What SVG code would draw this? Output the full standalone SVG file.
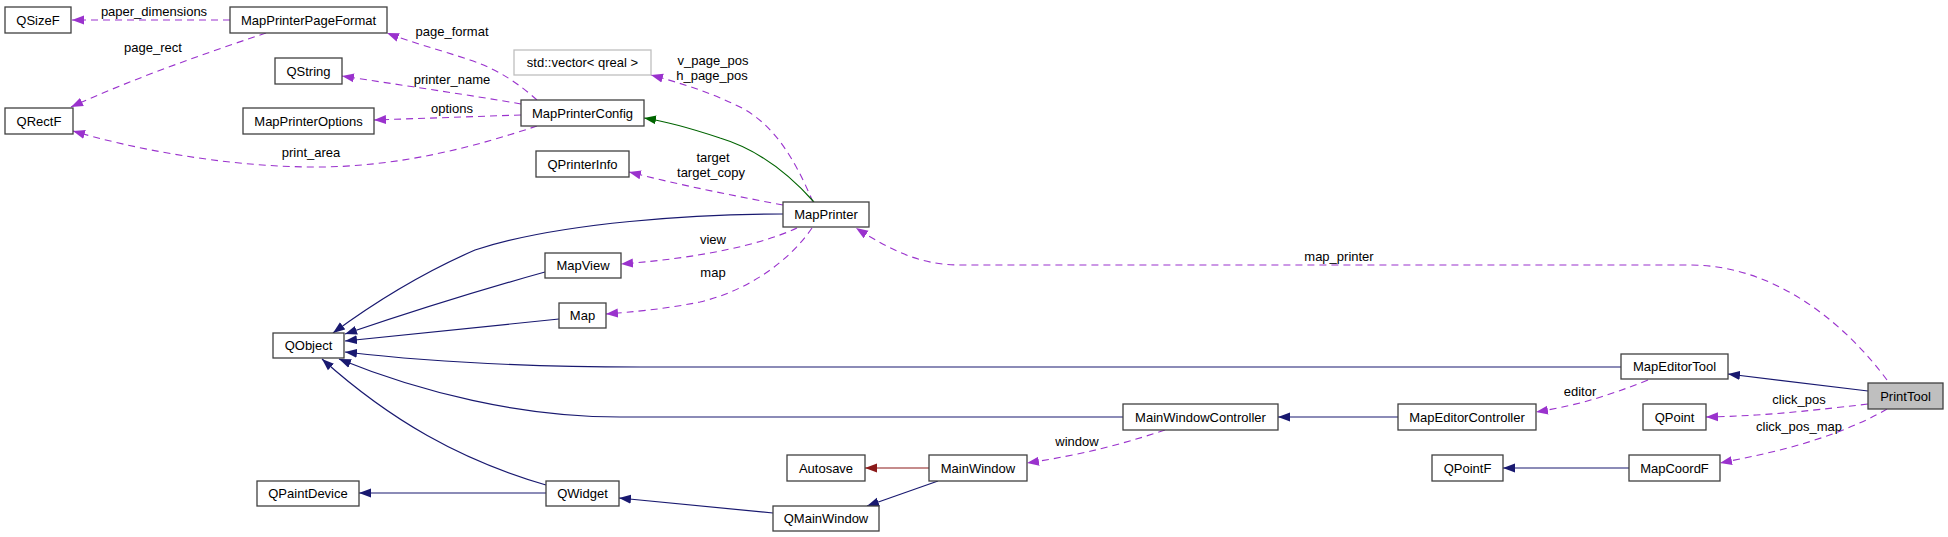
<svg xmlns="http://www.w3.org/2000/svg" width="1948" height="537" viewBox="0 0 1948 537">
<style>
.n rect{fill:#fff;stroke:#404040;stroke-width:1.3}
.n text,.lbl{font-family:"Liberation Sans",Arial,sans-serif;font-size:13px;fill:#000}
.n text{text-anchor:middle}
.lbl{text-anchor:middle}
.use{fill:none;stroke:#9a32cd;stroke-width:1.1;stroke-dasharray:7,5;marker-end:url(#ap)}
.pub{fill:none;stroke:#191970;stroke-width:1.2;marker-end:url(#ab)}
.pro{fill:none;stroke:#006400;stroke-width:1.2;marker-end:url(#ag)}
.pri{fill:none;stroke:#8b1a1a;stroke-width:1.2;marker-end:url(#ar)}
</style>
<defs>
<marker id="ap" viewBox="0 0 12 10" refX="12" refY="5" markerWidth="12" markerHeight="10" markerUnits="userSpaceOnUse" orient="auto"><path d="M0,0.5 L12,5 L0,9.5 z" fill="#9a32cd"/></marker>
<marker id="ab" viewBox="0 0 12 10" refX="12" refY="5" markerWidth="12" markerHeight="10" markerUnits="userSpaceOnUse" orient="auto"><path d="M0,0.5 L12,5 L0,9.5 z" fill="#191970"/></marker>
<marker id="ag" viewBox="0 0 12 10" refX="12" refY="5" markerWidth="12" markerHeight="10" markerUnits="userSpaceOnUse" orient="auto"><path d="M0,0.5 L12,5 L0,9.5 z" fill="#006400"/></marker>
<marker id="ar" viewBox="0 0 12 10" refX="12" refY="5" markerWidth="12" markerHeight="10" markerUnits="userSpaceOnUse" orient="auto"><path d="M0,0.5 L12,5 L0,9.5 z" fill="#8b1a1a"/></marker>
</defs>
<rect width="1948" height="537" fill="#fff"/>
<g id="connectors">
<path class="use" d="M230,20 L72,20"/>
<path class="use" d="M266,33 C200,55 130,80 71,107"/>
<path class="use" d="M537,100 C520,85 500,70 470,60 C440,50 410,42 387,33"/>
<path class="use" d="M521,104 C470,95 400,85 342,76"/>
<path class="use" d="M521,115 L374,120"/>
<path class="use" d="M537,126 C480,145 400,168 310,167 C220,166 130,148 73,131"/>
<path class="use" d="M813,202 C795,160 775,125 740,107 C710,92 680,83 651,75"/>
<path class="use" d="M783,205 C730,195 680,185 629,172"/>
<path class="use" d="M797,228 C760,245 700,258 621,264"/>
<path class="use" d="M812,228 C790,260 750,290 700,302 C660,310 630,312 606,314"/>
<path class="use" d="M1887,380 C1850,330 1780,265 1690,265 L960,265 C920,265 890,250 856,228"/>
<path class="use" d="M1648,380 C1610,395 1580,405 1536,412"/>
<path class="use" d="M1868,404 C1800,412 1760,416 1706,417"/>
<path class="use" d="M1887,409 C1860,425 1820,440 1780,450 C1760,455 1740,459 1720,463"/>
<path class="use" d="M1165,430 C1120,445 1080,455 1027,463"/>
<path class="pub" d="M783,214 C700,214 560,222 475,250 C420,274 375,302 333,333"/>
<path class="pub" d="M545,272 C480,290 410,312 345,334"/>
<path class="pub" d="M559,319 C490,326 420,333 345,341"/>
<path class="pub" d="M1621,367 L640,367 C520,367 430,362 345,352"/>
<path class="pub" d="M1123,417 L620,417 C520,417 420,392 339,359"/>
<path class="pub" d="M546,485 C460,460 390,420 322,359"/>
<path class="pub" d="M546,493 L359,493"/>
<path class="pub" d="M773,513 L619,498"/>
<path class="pub" d="M938,481 L867,506"/>
<path class="pub" d="M1398,417 L1278,417"/>
<path class="pub" d="M1868,391 L1728,374"/>
<path class="pub" d="M1629,468 L1503,468"/>
<path class="pro" d="M814,202 C790,175 760,150 720,138 C690,128 670,122 644,118"/>
<path class="pri" d="M929,468 L865,468"/>
</g>
<g id="labels">
<text class="lbl" x="154" y="16">paper_dimensions</text>
<text class="lbl" x="153" y="52">page_rect</text>
<text class="lbl" x="452" y="36">page_format</text>
<text class="lbl" x="452" y="84">printer_name</text>
<text class="lbl" x="452" y="113">options</text>
<text class="lbl" x="311" y="157">print_area</text>
<text class="lbl" x="713" y="65">v_page_pos</text>
<text class="lbl" x="712" y="80">h_page_pos</text>
<text class="lbl" x="713" y="162">target</text>
<text class="lbl" x="711" y="177">target_copy</text>
<text class="lbl" x="713" y="244">view</text>
<text class="lbl" x="713" y="277">map</text>
<text class="lbl" x="1339" y="261">map_printer</text>
<text class="lbl" x="1077" y="446">window</text>
<text class="lbl" x="1580" y="396">editor</text>
<text class="lbl" x="1799" y="404">click_pos</text>
<text class="lbl" x="1799" y="431">click_pos_map</text>
</g>
<g id="QSizeF" class="n"><rect x="5" y="7" width="66" height="26"/><text x="38" y="24.5">QSizeF</text></g>
<g id="MapPrinterPageFormat" class="n"><rect x="230" y="7" width="157" height="26"/><text x="308.5" y="24.5">MapPrinterPageFormat</text></g>
<g id="QString" class="n"><rect x="275" y="58" width="67" height="26"/><text x="308.5" y="75.5">QString</text></g>
<g id="MapPrinterOptions" class="n"><rect x="243" y="108" width="131" height="26"/><text x="308.5" y="125.5">MapPrinterOptions</text></g>
<g id="QRectF" class="n"><rect x="5" y="108" width="68" height="26"/><text x="39" y="125.5">QRectF</text></g>
<g id="std_vector_qreal" class="n"><rect x="514" y="50" width="137" height="25" style="stroke:#bfbfbf"/><text x="582.5" y="67">std::vector&lt; qreal &gt;</text></g>
<g id="MapPrinterConfig" class="n"><rect x="521" y="100" width="123" height="26"/><text x="582.5" y="117.5">MapPrinterConfig</text></g>
<g id="QPrinterInfo" class="n"><rect x="536" y="151" width="93" height="26"/><text x="582.5" y="168.5">QPrinterInfo</text></g>
<g id="MapPrinter" class="n"><rect x="783" y="202" width="86" height="25"/><text x="826" y="219">MapPrinter</text></g>
<g id="MapView" class="n"><rect x="545" y="253" width="76" height="25"/><text x="583" y="270">MapView</text></g>
<g id="Map" class="n"><rect x="559" y="303" width="47" height="25"/><text x="582.5" y="320">Map</text></g>
<g id="QObject" class="n"><rect x="273" y="333" width="71" height="25"/><text x="308.5" y="350">QObject</text></g>
<g id="QPaintDevice" class="n"><rect x="257" y="481" width="102" height="25"/><text x="308" y="498">QPaintDevice</text></g>
<g id="QWidget" class="n"><rect x="546" y="481" width="73" height="25"/><text x="582.5" y="498">QWidget</text></g>
<g id="Autosave" class="n"><rect x="787" y="455" width="78" height="26"/><text x="826" y="472.5">Autosave</text></g>
<g id="MainWindow" class="n"><rect x="929" y="455" width="98" height="26"/><text x="978" y="472.5">MainWindow</text></g>
<g id="QMainWindow" class="n"><rect x="773" y="506" width="106" height="25"/><text x="826" y="523">QMainWindow</text></g>
<g id="MainWindowController" class="n"><rect x="1123" y="404" width="155" height="26"/><text x="1200.5" y="421.5">MainWindowController</text></g>
<g id="MapEditorController" class="n"><rect x="1398" y="404" width="138" height="26"/><text x="1467" y="421.5">MapEditorController</text></g>
<g id="QPointF" class="n"><rect x="1432" y="455" width="71" height="26"/><text x="1467.5" y="472.5">QPointF</text></g>
<g id="MapEditorTool" class="n"><rect x="1621" y="354" width="107" height="25"/><text x="1674.5" y="371">MapEditorTool</text></g>
<g id="PrintTool" class="n"><rect x="1868" y="383" width="75" height="26" style="fill:#bfbfbf"/><text x="1905.5" y="400.5">PrintTool</text></g>
<g id="QPoint" class="n"><rect x="1643" y="404" width="63" height="26"/><text x="1674.5" y="421.5">QPoint</text></g>
<g id="MapCoordF" class="n"><rect x="1629" y="455" width="91" height="26"/><text x="1674.5" y="472.5">MapCoordF</text></g>
</svg>
